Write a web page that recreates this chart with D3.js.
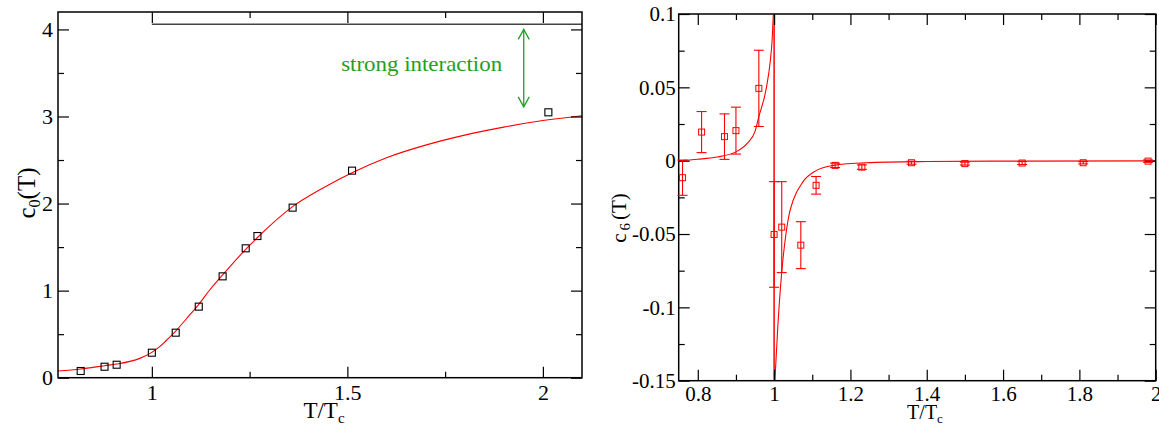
<!DOCTYPE html>
<html>
<head>
<meta charset="utf-8">
<script src="https://cdn.jsdelivr.net/npm/d3@7"></script>
<style>
  body { margin: 0; background: #fff; }
</style>
</head>
<body>
<div id="chart"></div>
<script>
// ---- left panel: c0(T) ----
var c0T   = [0.818, 0.879, 0.910, 1.0, 1.061, 1.120, 1.181, 1.240, 1.270, 1.360, 1.512, 2.014];
var c0Val = [0.077, 0.126, 0.149, 0.287, 0.517, 0.816, 1.164, 1.486, 1.627, 1.953, 2.378, 3.048];
// fit curve
var c0FitT   = [0.76, 0.818, 0.879, 0.910, 0.969, 1.0, 1.020, 1.038, 1.061, 1.089, 1.120, 1.148, 1.181, 1.240, 1.270, 1.360, 1.44, 1.512, 1.6, 1.7, 1.8, 1.9, 2.0, 2.1];
var c0FitVal = [0.077, 0.100, 0.138, 0.157, 0.222, 0.291, 0.356, 0.433, 0.536, 0.680, 0.843, 1.007, 1.180, 1.474, 1.610, 1.965, 2.185, 2.354, 2.526, 2.671, 2.786, 2.878, 2.953, 3.008];
var sbLimit = 4.06;
var c0XTicks = [1, 1.5, 2], c0XLabels = ["1", "1.5", "2"], c0XMinor = [1.25, 1.75];
var c0YTicks = [0, 1, 2, 3, 4], c0YLabels = ["0", "1", "2", "3", "4"], c0YMinor = [0.5, 1.5, 2.5, 3.5];

// ---- right panel: c6(T) ----
var c6T   = [0.76, 0.81, 0.87, 0.90, 0.96, 1.00, 1.02, 1.07, 1.11, 1.16, 1.23, 1.36, 1.50, 1.65, 1.81, 1.98];
var c6Val = [-0.0116, 0.0195, 0.0164, 0.0205, 0.0493, -0.0503, -0.0453, -0.0576, -0.0168, -0.0032, -0.0044, -0.0014, -0.0020, -0.0016, -0.0014, -0.0003];
var c6Err = [0.012, 0.014, 0.0155, 0.016, 0.026, 0.036, 0.031, 0.016, 0.006, 0.0015, 0.0015, 0.001, 0.001, 0.001, 0.0008, 0.0008];
var c6FitLoT   = [0.75, 0.80, 0.85, 0.90, 0.93, 0.95, 0.96, 0.98, 0.99, 0.995, 0.998];
var c6FitLoVal = [0.0, 0.001, 0.0025, 0.006, 0.012, 0.02, 0.03, 0.05, 0.068, 0.083, 0.1];
var c6FitHiT   = [1.002, 1.01, 1.02, 1.03, 1.04, 1.05, 1.075, 1.11, 1.155, 1.24, 1.4, 1.6, 2.0];
var c6FitHiVal = [-0.15, -0.112, -0.076, -0.052, -0.036, -0.027, -0.0146, -0.0068, -0.0032, -0.0014, -0.0006, -0.0003, -0.0001];
var c6XTicks = [0.8, 1, 1.2, 1.4, 1.6, 1.8, 2], c6XLabels = ["0.8", "1", "1.2", "1.4", "1.6", "1.8", "2"];
var c6XMinor = [0.9, 1.1, 1.3, 1.5, 1.7, 1.9];
var c6YTicks = [-0.15, -0.1, -0.05, 0, 0.05, 0.1], c6YLabels = ["-0.15", "-0.1", "-0.05", "0", "0.05", "0.1"];
var c6YMinor = [-0.125, -0.075, -0.025, 0.025, 0.075];

var serif = "'Liberation Serif', 'Times New Roman', 'DejaVu Serif', serif";

var svg = d3.select("#chart").append("svg")
  .attr("width", 1159)
  .attr("height", 427)
  .attr("font-family", serif);

// draws box, mirrored inward ticks and tick labels
function drawFrame(g, x, y, o) {
  var w = x.range()[1] - x.range()[0];
  var h = y.range()[0] - y.range()[1];
  function ax(axis, vals, size, labels, tr) {
    var a = axis.tickValues(vals).tickSize(-size).tickSizeOuter(0)
      .tickFormat(labels ? (d, i) => labels[i] : "");
    var ag = g.append("g").attr("transform", tr).call(a);
    ag.select(".domain").remove();
    ag.attr("font-family", serif).attr("font-size", o.fs);
    ag.selectAll("line").attr("stroke", "#000").attr("stroke-width", 1.2);
    ag.selectAll("text").attr("fill", "#000");
    return ag;
  }
  var bx = ax(d3.axisBottom(x), o.xt, 11, o.xl, `translate(0,${h})`);
  bx.selectAll("text").attr("y", o.xLabY).attr("dy", null);
  ax(d3.axisBottom(x), o.xm, 6, null, `translate(0,${h})`);
  ax(d3.axisTop(x), o.xt, 11, null, "translate(0,0)");
  ax(d3.axisTop(x), o.xm, 6, null, "translate(0,0)");
  var ly = ax(d3.axisLeft(y), o.yt, 11, o.yl, "translate(0,0)");
  ly.selectAll("text").attr("x", -o.yPad).attr("dy", "0.33em");
  ax(d3.axisLeft(y), o.ym, 6, null, "translate(0,0)");
  ax(d3.axisRight(y), o.yt, 11, null, `translate(${w},0)`);
  ax(d3.axisRight(y), o.ym, 6, null, `translate(${w},0)`);
  g.append("rect")
    .attr("width", w).attr("height", h)
    .attr("fill", "none").attr("stroke", "#000").attr("stroke-width", 1.5);
}

// ================= left panel =================
var L = { left: 58, top: 12, right: 582, bottom: 377.7 };
var g1 = svg.append("g").attr("transform", `translate(${L.left},${L.top})`);
var x1 = d3.scaleLinear().domain([0.76, 2.1]).range([0, L.right - L.left]);
var y1 = d3.scaleLinear().domain([0, 4.2]).range([L.bottom - L.top, 0]);

g1.append("clipPath").attr("id", "clip1").append("rect")
  .attr("width", L.right - L.left).attr("height", L.bottom - L.top);

// Stefan-Boltzmann limit line
g1.append("line")
  .attr("x1", x1(1)).attr("x2", x1(2.1))
  .attr("y1", y1(sbLimit)).attr("y2", y1(sbLimit))
  .attr("stroke", "#444").attr("stroke-width", 1.4);

var fit1 = c0FitT.map((t, i) => [t, c0FitVal[i]]);
g1.append("path")
  .datum(fit1)
  .attr("clip-path", "url(#clip1)")
  .attr("fill", "none").attr("stroke", "#ff0000").attr("stroke-width", 1.1)
  .attr("d", d3.line().x(d => x1(d[0])).y(d => y1(d[1])).curve(d3.curveMonotoneX));

drawFrame(g1, x1, y1, {
  xt: c0XTicks, xl: c0XLabels, xm: c0XMinor,
  yt: c0YTicks, yl: c0YLabels, ym: c0YMinor,
  fs: 22, xLabY: 22, yPad: 5
});

g1.selectAll(".pt")
  .data(c0T.map((t, i) => [t, c0Val[i]]))
  .enter()
  .append("rect")
  .attr("x", d => x1(d[0]) - 3.5)
  .attr("y", d => y1(d[1]) - 3.5)
  .attr("width", 7).attr("height", 7)
  .attr("fill", "none").attr("stroke", "#000").attr("stroke-width", 1.1);

// "strong interaction" annotation
var green = "#22a022";
var arrowT = 1.951, arrowTop = 4.0, arrowBot = 3.11;
var ax1 = x1(arrowT), ay1 = y1(arrowTop), ay2 = y1(arrowBot);
g1.append("line")
  .attr("x1", ax1).attr("x2", ax1).attr("y1", ay1).attr("y2", ay2)
  .attr("stroke", green).attr("stroke-width", 1.3);
g1.append("path")
  .attr("d", `M${ax1 - 5.5},${ay1 + 10}L${ax1},${ay1}L${ax1 + 5.5},${ay1 + 10}` +
             `M${ax1 - 5.5},${ay2 - 10}L${ax1},${ay2}L${ax1 + 5.5},${ay2 - 10}`)
  .attr("fill", "none").attr("stroke", green).attr("stroke-width", 1.3);
g1.append("text")
  .attr("x", x1(1.69)).attr("y", 58.7)
  .attr("text-anchor", "middle")
  .attr("font-size", 21.5)
  .attr("textLength", 161).attr("lengthAdjust", "spacingAndGlyphs")
  .attr("fill", green)
  .text("strong interaction");

// axis titles
var t1 = svg.append("text")
  .attr("x", 324).attr("y", 418)
  .attr("text-anchor", "middle")
  .attr("font-size", 23);
t1.append("tspan").text("T/T");
t1.append("tspan").attr("font-size", 15).attr("dy", 5).text("c");

var yl1 = svg.append("text")
  .attr("transform", "translate(35,193) rotate(-90)")
  .attr("text-anchor", "middle")
  .attr("font-size", 25);
yl1.append("tspan").text("c");
yl1.append("tspan").attr("font-size", 16).attr("dy", 5).text("0");
yl1.append("tspan").attr("dy", -5).text("(T)");

// ================= right panel =================
var R = { left: 678.7, top: 14, right: 1155.7, bottom: 380.7 };
var g2 = svg.append("g").attr("transform", `translate(${R.left},${R.top})`);
var x2 = d3.scaleLinear().domain([0.75, 2.0]).range([0, R.right - R.left]);
var y2 = d3.scaleLinear().domain([-0.15, 0.1]).range([R.bottom - R.top, 0]);

g2.append("clipPath").attr("id", "clip2").append("rect")
  .attr("width", R.right - R.left).attr("height", R.bottom - R.top);

var line2 = d3.line().x(d => x2(d[0])).y(d => y2(d[1])).curve(d3.curveMonotoneX);
[c6FitLoT.map((t, i) => [t, c6FitLoVal[i]]), c6FitHiT.map((t, i) => [t, c6FitHiVal[i]])]
  .forEach(function(branch) {
    g2.append("path")
      .datum(branch)
      .attr("clip-path", "url(#clip2)")
      .attr("fill", "none").attr("stroke", "#ff0000").attr("stroke-width", 1.1)
      .attr("d", line2);
  });
// pole at T = Tc
g2.append("line")
  .attr("x1", x2(1)).attr("x2", x2(1))
  .attr("y1", y2(0.1)).attr("y2", y2(-0.15))
  .attr("stroke", "#ff0000").attr("stroke-width", 1.5);

drawFrame(g2, x2, y2, {
  xt: c6XTicks, xl: c6XLabels, xm: c6XMinor,
  yt: c6YTicks, yl: c6YLabels, ym: c6YMinor,
  fs: 21, xLabY: 20.5, yPad: 3
});

var pts2 = c6T.map((t, i) => ({ t: t, v: c6Val[i], e: c6Err[i] }));
var eb = g2.selectAll(".eb").data(pts2).enter().append("g").attr("class", "eb");
eb.append("line")
  .attr("x1", d => x2(d.t)).attr("x2", d => x2(d.t))
  .attr("y1", d => y2(d.v + d.e)).attr("y2", d => y2(d.v - d.e));
eb.append("line")
  .attr("x1", d => x2(d.t) - 5).attr("x2", d => x2(d.t) + 5)
  .attr("y1", d => y2(d.v + d.e)).attr("y2", d => y2(d.v + d.e));
eb.append("line")
  .attr("x1", d => x2(d.t) - 5).attr("x2", d => x2(d.t) + 5)
  .attr("y1", d => y2(d.v - d.e)).attr("y2", d => y2(d.v - d.e));
eb.selectAll("line").attr("stroke", "#ff0000").attr("stroke-width", 1.1);
eb.append("rect")
  .attr("x", d => x2(d.t) - 3).attr("y", d => y2(d.v) - 3)
  .attr("width", 6).attr("height", 6)
  .attr("fill", "none").attr("stroke", "#ff0000").attr("stroke-width", 1);

var t2 = svg.append("text")
  .attr("x", 925).attr("y", 419)
  .attr("text-anchor", "middle")
  .attr("font-size", 20);
t2.append("tspan").text("T/T");
t2.append("tspan").attr("font-size", 13).attr("dy", 4).text("c");

var yl2 = svg.append("text")
  .attr("transform", "translate(626,218) rotate(-90)")
  .attr("text-anchor", "middle")
  .attr("font-size", 21);
yl2.append("tspan").text("c");
yl2.append("tspan").attr("font-size", 15).attr("dx", 3).attr("dy", 4).text("6");
yl2.append("tspan").attr("dx", 3).attr("dy", -4).text("(T)");
</script>
</body>
</html>
